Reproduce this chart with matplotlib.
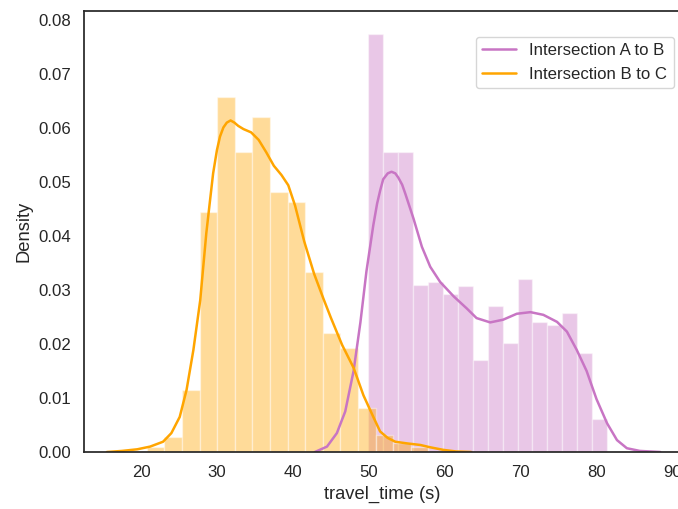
import numpy as np
import matplotlib
matplotlib.use("Agg")
import matplotlib.pyplot as plt
import seaborn as sns

# ── histogram data (density) ──
ab_edges = [49.95, 51.92, 53.88, 55.85, 57.81, 59.78, 61.74, 63.71, 65.67,
            67.64, 69.60, 71.57, 73.53, 75.50, 77.46, 79.43, 81.39]
ab_heights = [0.0775, 0.0556, 0.0556, 0.0309, 0.0315, 0.0292, 0.0308, 0.0171,
              0.0270, 0.0201, 0.0321, 0.0241, 0.0235, 0.0257, 0.0184, 0.0062]

bc_edges = [20.75, 23.07, 25.39, 27.71, 30.03, 32.35, 34.67, 36.99, 39.31,
            41.63, 43.95, 46.27, 48.59, 50.91, 53.23, 55.55, 57.87]
bc_heights = [0.0010, 0.0028, 0.0115, 0.0445, 0.0657, 0.0556, 0.0620, 0.0481,
              0.0463, 0.0333, 0.0221, 0.0193, 0.0081, 0.0031, 0.0016, 0.0010]

# ── KDE curves ──
ab_kde_x = [42.9, 44.5, 45.8, 46.9, 48.0, 48.9, 49.7, 50.6, 51.1, 51.5, 51.9,
            52.5, 53.0, 53.5, 53.9, 54.4, 54.8, 55.9, 57.0, 58.1, 59.4, 61.2,
            62.9, 64.2, 66.0, 67.7, 69.5, 71.3, 73.0, 74.8, 76.1, 77.4, 78.7,
            80.0, 81.4, 82.7, 84.0, 85.7, 88.4]
ab_kde_y = [0.0000, 0.0010, 0.0035, 0.0075, 0.0150, 0.0240, 0.0335, 0.0420,
            0.0460, 0.0484, 0.0505, 0.0516, 0.0519, 0.0516, 0.0508, 0.0495,
            0.0479, 0.0432, 0.0380, 0.0343, 0.0315, 0.0288, 0.0266, 0.0248,
            0.0240, 0.0245, 0.0256, 0.0259, 0.0254, 0.0241, 0.0223, 0.0189,
            0.0150, 0.0098, 0.0053, 0.0022, 0.0007, 0.0002, 0.0000]

bc_kde_x = [15.5, 17.5, 19.5, 21.2, 22.9, 24.0, 25.1, 26.0, 26.9, 27.8, 28.6,
            29.1, 29.5, 30.0, 30.4, 30.85, 31.3, 31.8, 32.3, 32.8, 33.5, 34.5,
            35.5, 36.5, 37.5, 38.5, 39.4, 40.3, 41.5, 42.8, 44.0, 45.0, 46.5,
            48.0, 49.3, 50.6, 51.5, 52.5, 53.5, 55.0, 56.8, 58.0, 59.8, 61.5,
            63.5]
bc_kde_y = [0.0000, 0.0002, 0.0005, 0.0010, 0.0019, 0.0035, 0.0065, 0.0115,
            0.0189, 0.0281, 0.0405, 0.0467, 0.0516, 0.0559, 0.0584, 0.0601,
            0.0610, 0.0614, 0.0610, 0.0604, 0.0598, 0.0592, 0.0578, 0.0555,
            0.0530, 0.0513, 0.0494, 0.0456, 0.0390, 0.0330, 0.0285, 0.0249,
            0.0198, 0.0156, 0.0105, 0.0065, 0.0038, 0.0026, 0.0019, 0.0016,
            0.0013, 0.0009, 0.0004, 0.0001, 0.0000]

AB_COLOR = "#c875c4"
BC_COLOR = "orange"

sns.set_theme(style="white", font_scale=1.1)
plt.rcParams["font.family"] = ["Liberation Sans", "DejaVu Sans"]

fig = plt.figure(figsize=(6.78, 5.09), dpi=100)
ax = fig.add_axes([84 / 678, 1 - 452 / 509, 596 / 678, 441 / 509])

for edges, heights, kx, ky, color, label in [
    (ab_edges, ab_heights, ab_kde_x, ab_kde_y, AB_COLOR, "Intersection A to B"),
    (bc_edges, bc_heights, bc_kde_x, bc_kde_y, BC_COLOR, "Intersection B to C"),
]:
    edges = np.asarray(edges)
    ax.bar(edges[:-1], heights, width=np.diff(edges), align="edge",
           color=color, alpha=0.4, edgecolor="white", linewidth=1.0)
    ax.plot(kx, ky, color=color, lw=1.8, label=label)

ax.set_xlim(12.49, 91.0)
ax.set_ylim(0, 0.08167)
ax.set_xticks(range(20, 91, 10))
yt = np.arange(0, 0.081, 0.01)
ax.set_yticks(yt)
ax.set_yticklabels([f"{v:.2f}" for v in yt])
ax.set_xlabel("travel_time (s)")
ax.set_ylabel("Density")

ax.legend(loc="upper right", bbox_to_anchor=(0.99, 0.942), borderaxespad=0)

fig.savefig("out.png", dpi=100, facecolor="white")
